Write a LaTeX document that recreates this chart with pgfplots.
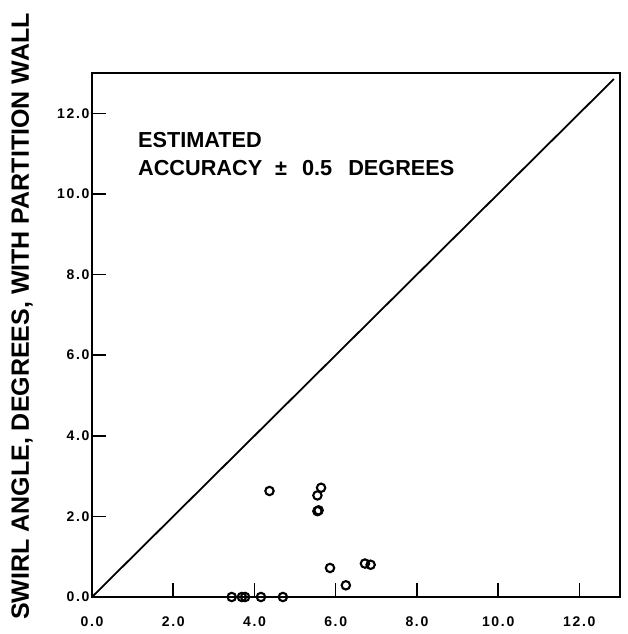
\documentclass[border=0pt]{standalone}
\usepackage{fontspec}
\setmainfont{Liberation Sans}
\newfontfamily\tickfam[LetterSpace=12]{Liberation Sans}
\usepackage{pgfplots}
\pgfplotsset{compat=1.18}
\newcommand\tickfont{\fontsize{14bp}{15bp}\selectfont\tickfam\bfseries}
\begin{document}
\begin{tikzpicture}
\begin{axis}[
  name=ax, at={(0,0)}, anchor=south west,
  scale only axis, width=528bp, height=524bp,
  xmin=0, xmax=13.0, ymin=0, ymax=13.0,
  xtick={0,2,4,6,8,10,12}, ytick={0,2,4,6,8,10,12},
  xtick pos=bottom, ytick pos=left,
  tick align=inside, major tick length=14bp,
  major tick style={line width=1.6bp, black},
  axis line style={line width=2.2bp},
  /pgf/number format/assume math mode=true,
  xticklabel={\pgfmathprintnumber[fixed,fixed zerofill,precision=1]{\tick}},
  yticklabel={\pgfmathprintnumber[fixed,fixed zerofill,precision=1]{\tick}},
  ticklabel style={font=\tickfont},
  xticklabel style={yshift=-16bp},
  yticklabel style={xshift=1bp},
  clip=false,
  ylabel={SWIRL ANGLE, DEGREES, WITH PARTITION WALL},
  every axis y label/.style={at={(rel axis cs:0,0.535)}, xshift=-70bp, rotate=90, anchor=center, font=\fontsize{25bp}{26bp}\selectfont\bfseries},
]
\addplot[black, line width=1.8bp, no marks] coordinates {(0,0) (12.85,12.85)};
\addplot[only marks, mark=o, mark size=4.2bp, mark options={line width=2.1bp, black}] coordinates {
(3.44,0) (3.69,0) (3.77,0) (4.16,0) (4.70,0)
(4.37,2.63) (5.55,2.52) (5.64,2.71) (5.55,2.13) (5.58,2.15)
(5.86,0.72) (6.25,0.29) (6.72,0.83) (6.86,0.80)
};
\node[anchor=base west, inner sep=0pt, font=\fontsize{21.7bp}{22bp}\selectfont\bfseries] at (axis cs:1.13,11.16) {ESTIMATED};
\node[anchor=base west, inner sep=0pt, font=\fontsize{21.7bp}{22bp}\selectfont\bfseries] at (axis cs:1.13,10.46) {ACCURACY\hspace{13bp}±\hspace{15bp}0.5\hspace{16bp}DEGREES};
\end{axis}
\pgfresetboundingbox
\path[use as bounding box] ([xshift=-92bp,yshift=-37bp]ax.south west) rectangle ([xshift=8bp,yshift=73bp]ax.north east);
\end{tikzpicture}
\end{document}
